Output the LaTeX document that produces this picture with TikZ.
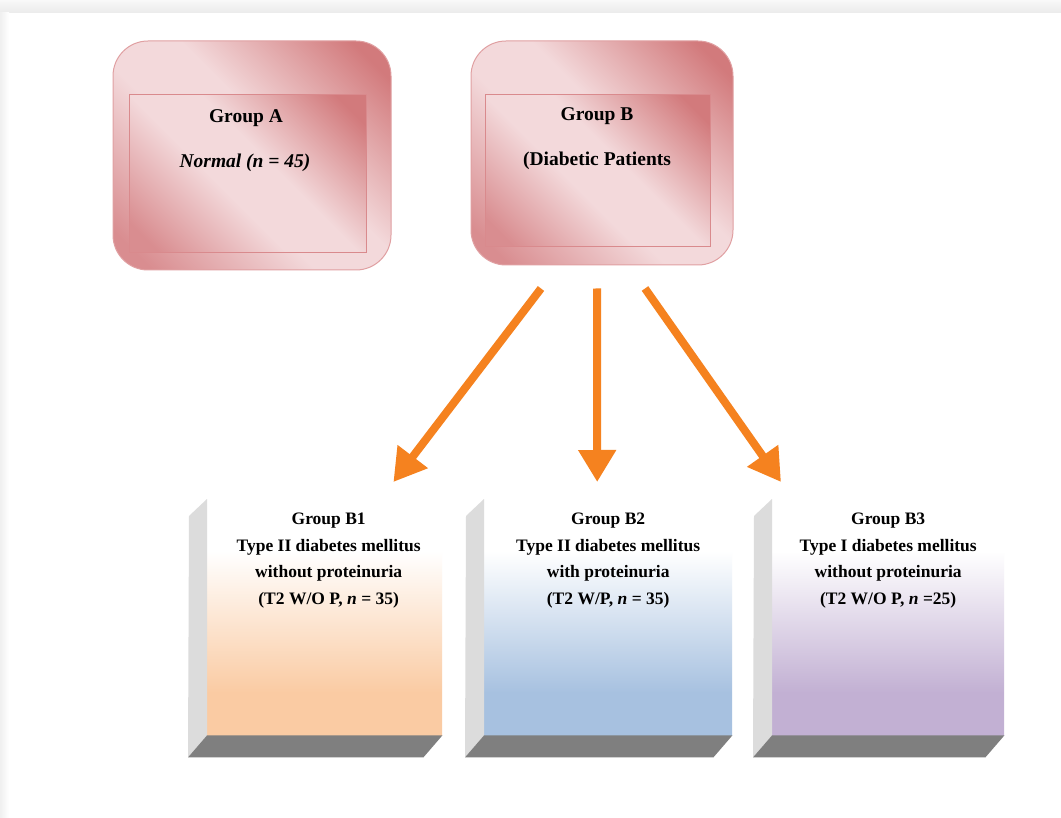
\documentclass[tikz,border=0pt]{standalone}
\usepackage{fontspec}
\setmainfont{Liberation Serif}
\usetikzlibrary{arrows.meta,calc}
\definecolor{pkdark}{HTML}{D27A7C}
\definecolor{pkmid}{HTML}{D98D90}
\definecolor{pklight}{HTML}{F3D9DB}
\definecolor{pkline}{HTML}{E0A0A2}
\definecolor{pkinner}{HTML}{D98A8D}
\definecolor{peach}{HTML}{FACBA3}
\definecolor{bluec}{HTML}{A7C1E0}
\definecolor{purplec}{HTML}{C2B0D3}
\definecolor{bevlight}{HTML}{DCDCDC}
\definecolor{bevdark}{HTML}{7F7F7F}
\definecolor{arrorange}{HTML}{F5821F}
\pgfdeclarehorizontalshading{pinkdiag}{100bp}{color(0bp)=(pkmid); color(20bp)=(pkmid); color(43bp)=(pklight); color(56bp)=(pklight); color(80bp)=(pkdark); color(100bp)=(pkdark)}
\pgfdeclareverticalshading{peachsh}{100bp}{color(0bp)=(peach); color(34bp)=(peach); color(64bp)=(white); color(100bp)=(white)}
\pgfdeclareverticalshading{bluesh}{100bp}{color(0bp)=(bluec); color(34bp)=(bluec); color(64bp)=(white); color(100bp)=(white)}
\pgfdeclareverticalshading{purplesh}{100bp}{color(0bp)=(purplec); color(34bp)=(purplec); color(64bp)=(white); color(100bp)=(white)}
\tikzset{
  outerbox/.style={draw=pkline, line width=1pt, rounded corners=35pt, shading=pinkdiag, shading angle=45, inner sep=0pt},
  innerbox/.style={draw=pkinner, line width=1pt, shading=pinkdiag, shading angle=45, inner sep=0pt},
  face/.style={inner sep=0pt, anchor=north west, minimum height=236pt},
  lbl/.style={font=\fontsize{19.5}{26}\selectfont\bfseries, inner sep=0pt, align=center},
  btxt/.style={font=\fontsize{17.5}{26.5}\selectfont\bfseries, inner sep=0pt, align=center, anchor=north},
  arr/.style={draw=arrorange, line width=8pt, -{Triangle[length=32pt,width=36pt]}},
  bevL/.style={fill=bevlight},
  bevB/.style={fill=bevdark}
}
\begin{document}
\begin{tikzpicture}[x=1pt,y=-1pt]
\useasboundingbox (0,0) rectangle (1061,818);
\fill[white] (0,0) rectangle (1061,818);
\shade[top color=gray!5, bottom color=gray!16] (0,0) rectangle (1061,13);
\shade[left color=gray!12, right color=white] (0,13) rectangle (9,818);

% top boxes
\node[outerbox, minimum width=278pt, minimum height=229pt] (A) at (252,155.5) {};
\node[innerbox, minimum width=237pt, minimum height=158pt] (Ai) at (247.5,174) {};
\node[lbl] (At) at (246,118) {Group A};
\node[lbl] (An) at (245,163) {\itshape Normal (n = 45)};

\node[outerbox, minimum width=262pt, minimum height=224pt] (B) at (602,153) {};
\node[innerbox, minimum width=225pt, minimum height=152pt] (Bi) at (597.5,171) {};
\node[lbl] (Bt) at (597,116) {Group B};
\node[lbl] (Bn) at (597,161) {(Diabetic Patients};

% bottom boxes
\node[face, minimum width=235pt, shading=peachsh] (b1) at (207,499) {};
\node[face, minimum width=248pt, shading=bluesh] (b2) at (484,499) {};
\node[face, minimum width=232pt, shading=purplesh] (b3) at (772,499) {};
\foreach \b in {b1,b2,b3}{
  \fill[bevL] (\b.north west) -- ++(-18,17) -- ($(\b.south west)+(-19,22)$) -- (\b.south west) -- cycle;
  \fill[bevB] (\b.south west) -- (\b.south east) -- ($(\b.south east)+(-19,22)$) -- ($(\b.south west)+(-19,22)$) -- cycle;
}
\node[btxt] (b1t) at ($(b1.north)+(4,14)$) {Group B1\\Type II diabetes mellitus\\without proteinuria\\(T2 W/O P, \textit{n} = 35)};
\node[btxt] (b2t) at ($(b2.north)+(0,14)$) {Group B2\\Type II diabetes mellitus\\with proteinuria\\(T2 W/P, \textit{n} = 35)};
\node[btxt] (b3t) at ($(b3.north)+(0,14)$) {Group B3\\Type I diabetes mellitus\\without proteinuria\\(T2 W/O P, \textit{n} =25)};

% arrows
\coordinate (s1) at ($(B.south)+(-61,23)$);
\coordinate (s2) at ($(B.south)+(-5,23)$);
\coordinate (s3) at ($(B.south)+(43,23)$);
\coordinate (e1) at ($(b1.north east)+(-49,-17)$);
\coordinate (e2) at ($(b2.north)+(-11,-17)$);
\coordinate (e3) at ($(b3.north west)+(9,-17)$);
\draw[arr] (s1) -- (e1);
\draw[arr] (s2) -- (e2);
\draw[arr] (s3) -- (e3);
\end{tikzpicture}
\end{document}
